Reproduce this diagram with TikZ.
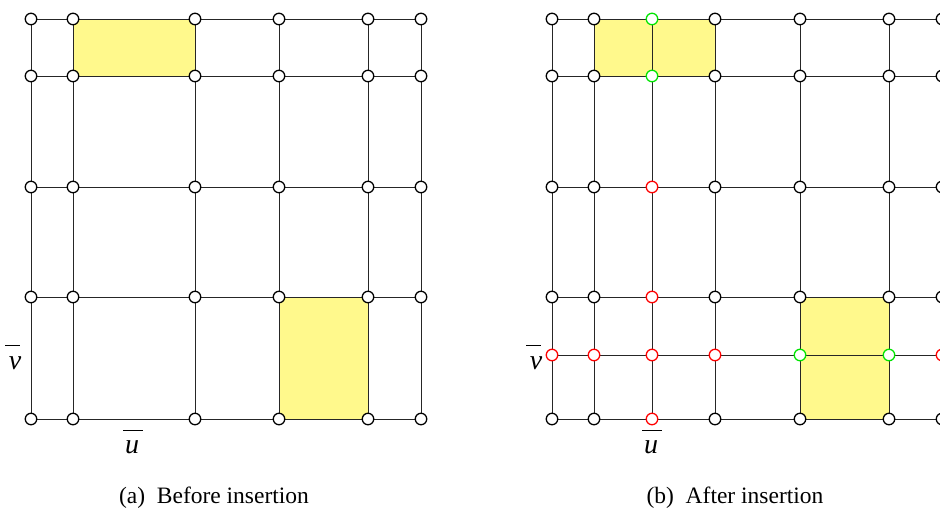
\documentclass[tikz,border=0pt]{standalone}
\usepackage{fontspec}
\setmainfont{Liberation Serif}
\begin{document}
\begin{tikzpicture}[x=1pt,y=-1pt,
  gl/.style={line width=1pt, black!85},
  vx/.style={circle, draw=black, fill=white, line width=1.3pt, minimum size=11.5pt, inner sep=0pt},
  vr/.style={vx, draw=red},
  vg/.style={vx, draw=green!90!black},
  lab/.style={font=\fontsize{28}{28}\selectfont\itshape, inner sep=0pt},
  bar/.style={line width=1pt},
  captxt/.style={font=\fontsize{23.5}{23.5}\selectfont, inner sep=0pt}]
\useasboundingbox (0,0) rectangle (940,512);
% ---------- left grid ----------
\fill[yellow!45!white] (73,19) rectangle (195,76);
\fill[yellow!45!white] (279,297) rectangle (368,419);
\foreach \y in {19,76,187,297,419} \draw[gl] (31,\y) -- (421,\y);
\foreach \x in {31,73,195,279,368,421} \draw[gl] (\x,19) -- (\x,419);
\foreach \x [count=\i] in {31,73,195,279,368,421}
  \foreach \y [count=\j] in {19,76,187,297,419}
    \node[vx] (a\i-\j) at (\x,\y) {};
\node[lab] (va) at (15,363) {v};
\draw[bar] ([yshift=11pt,xshift=-10pt]va.north) -- ([yshift=11pt,xshift=5pt]va.north);
\node[lab] (ua) at (132,447) {u};
\draw[bar] ([yshift=10pt,xshift=-9pt]ua.north) -- ([yshift=10pt,xshift=11pt]ua.north);
\node[captxt] (capa) at (214,498) {(a)\enspace Before insertion};
% ---------- right grid ----------
\fill[yellow!45!white] (594,19) rectangle (715,76);
\fill[yellow!45!white] (800,297) rectangle (889,419);
\foreach \y in {19,76,187,297,355,419} \draw[gl] (552,\y) -- (942,\y);
\foreach \x in {552,594,652,715,800,889,942} \draw[gl] (\x,19) -- (\x,419);
\foreach \x [count=\i] in {552,594,715,800,889,942}
  \foreach \y [count=\j] in {19,76,187,297,419}
    \node[vx] (b\i-\j) at (\x,\y) {};
% inserted vertices
\node[vg] (g1) at (652,19) {};
\node[vg] (g2) at (652,76) {};
\node[vr] (r1) at (652,187) {};
\node[vr] (r2) at (652,297) {};
\node[vr] (r3) at (652,355) {};
\node[vr] (r4) at (652,419) {};
\node[vr] (r5) at (552,355) {};
\node[vr] (r6) at (594,355) {};
\node[vr] (r7) at (715,355) {};
\node[vg] (g3) at (800,355) {};
\node[vg] (g4) at (889,355) {};
\node[vr] (r8) at (942,355) {};
\node[lab] (vb) at (536,363) {v};
\draw[bar] ([yshift=11pt,xshift=-10pt]vb.north) -- ([yshift=11pt,xshift=5pt]vb.north);
\node[lab] (ub) at (651,447) {u};
\draw[bar] ([yshift=10pt,xshift=-9pt]ub.north) -- ([yshift=10pt,xshift=11pt]ub.north);
\node[captxt] (capb) at (735,498) {(b)\enspace After insertion};
\end{tikzpicture}
\end{document}
